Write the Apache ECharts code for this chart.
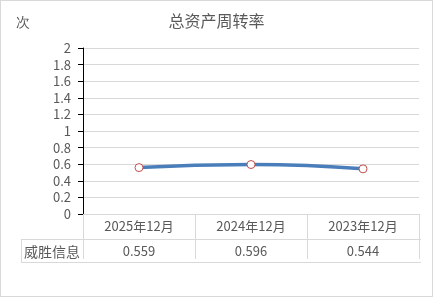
<!DOCTYPE html>
<html><head><meta charset="utf-8">
<script src="https://cdn.jsdelivr.net/npm/echarts@6/dist/echarts.min.js"></script>
<style>html,body{margin:0;padding:0;background:#fff}#c{width:433px;height:297px;box-sizing:border-box;border:1px solid #d9d9d9}</style>
</head><body><div id="c"></div>
<script>
const categories = ['2025年12月', '2024年12月', '2023年12月'];
const values = [0.559, 0.596, 0.544];
const seriesName = '威胜信息';
const title = '总资产周转率';
const unit = '次';

const font = '"Noto Sans CJK SC", "Liberation Sans", sans-serif';
const txt = '#595959';
const chart = echarts.init(document.getElementById('c'));
const G = {left: 82, right: 13, top: 47, bottom: 82};
chart.setOption({
  animation: false,
  title: {text: title, left: 'center', top: 7, textStyle: {fontSize: 16, fontWeight: 'normal', color: txt, fontFamily: font}},
  grid: G,
  xAxis: {type: 'category', data: categories, boundaryGap: true,
    axisLine: {show: true, lineStyle: {color: '#d9d9d9'}},
    axisTick: {show: true, length: 45, lineStyle: {color: '#d9d9d9'}},
    axisLabel: {color: txt, fontSize: 13, fontFamily: font, margin: 6}},
  yAxis: {type: 'value', min: 0, max: 2, interval: 0.2,
    axisLine: {show: true, lineStyle: {color: '#000'}},
    axisTick: {show: true, length: 5, lineStyle: {color: '#000'}},
    splitLine: {lineStyle: {color: '#d9d9d9'}},
    axisLabel: {color: txt, fontSize: 13, fontFamily: font, margin: 12,
      formatter: v => String(Math.round(v * 10) / 10)}},
  series: [{name: seriesName, type: 'line', data: values, smooth: true,
    lineStyle: {color: '#4a7ebb', width: 3.5},
    symbol: 'circle', symbolSize: 8,
    itemStyle: {color: '#fff', borderColor: '#c0504d', borderWidth: 1}}]
});
const W = 433, H = 297;
const x0 = G.left, x1 = W - G.right, yTop = H - G.bottom;
const r1 = yTop + 23, r2 = yTop + 46, leftEdge = 20;
const gfx = [
  {type: 'text', left: 15, top: 15, style: {text: unit, fontSize: 14, fill: txt, font: '14px ' + font}},
  {type: 'line', shape: {x1: leftEdge, y1: r1 + 0.5, x2: x1, y2: r1 + 0.5}, style: {stroke: '#d9d9d9', lineWidth: 1}},
  {type: 'line', shape: {x1: leftEdge, y1: r2 + 0.5, x2: x1, y2: r2 + 0.5}, style: {stroke: '#d9d9d9', lineWidth: 1}},
  {type: 'line', shape: {x1: leftEdge + 0.5, y1: r1, x2: leftEdge + 0.5, y2: r2}, style: {stroke: '#d9d9d9', lineWidth: 1}},
  {type: 'text', x: (leftEdge + x0) / 2, y: (r1 + r2) / 2 + 1, style: {text: seriesName, font: '14px ' + font, fill: txt, textAlign: 'center', textVerticalAlign: 'middle'}}
];
values.forEach((v, i) => {
  const px = chart.convertToPixel({xAxisIndex: 0}, i);
  gfx.push({type: 'text', x: px, y: (r1 + r2) / 2 + 1, style: {text: v.toFixed(3), font: '13px ' + font, fill: txt, textAlign: 'center', textVerticalAlign: 'middle'}});
});
chart.setOption({graphic: gfx});
</script></body></html>
